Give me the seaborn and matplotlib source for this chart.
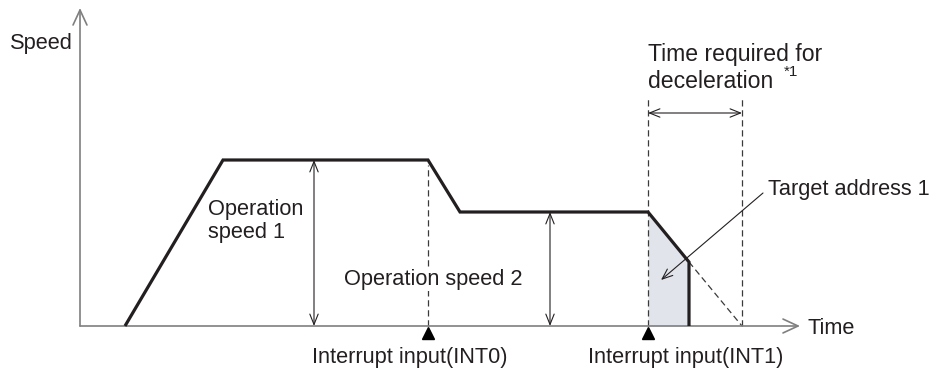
import numpy as np
import pandas as pd
import seaborn as sns
import matplotlib.pyplot as plt

# speed profile (time / speed in drawing units)
profile_time = [125, 223, 428, 460, 648, 689, 689]
profile_speed = [0, 166, 166, 114, 114, 64, 0]

# shaded part: from INT1 until target address 1
shade_time = [648, 689]
shade_speed = [114, 64]

# planned deceleration (dashed)
decel_time = [689, 742]
decel_speed = [64, 0]

int_times = [428, 648]
int_labels = ['Interrupt input(INT0)', 'Interrupt input(INT1)']
decel_end = 742

ink = '#231f20'
axis_gray = '#7f7f7f'
fs = 15.7

sns.set_theme(style='white')
plt.rcParams['font.family'] = ['Liberation Sans', 'DejaVu Sans']

fig = plt.figure(figsize=(9.37, 3.71), dpi=100)
ax = fig.add_axes([0, 0, 1, 1])
ax.set_xlim(0, 937)
ax.set_ylim(-45, 326)
ax.axis('off')


def arrow(tail, tip, style='->,head_length=0.75,head_width=0.3', lw=0.8, color=ink):
    ax.annotate('', xy=tip, xytext=tail,
                arrowprops=dict(arrowstyle=style, lw=lw, color=color,
                                shrinkA=0, shrinkB=0, mutation_scale=10))


# axes with open arrow heads
big = '->,head_length=1.08,head_width=0.5'
arrow((80, 0), (80, 318), style=big, lw=1.2, color=axis_gray)
arrow((80, 0), (800, 0), style=big, lw=1.2, color=axis_gray)
ax.text(73, 282, 'Speed', fontsize=fs, color=ink, ha='right', va='center')
ax.text(808, -2, 'Time', fontsize=fs, color=ink, ha='left', va='center')

# shaded area
ax.fill_between(shade_time, 0, shade_speed, color='#e1e4ea', lw=0, zorder=1)

# dashed guide lines
dash = dict(color='#3a3a3a', lw=0.9, ls=(0, (5, 3)), zorder=2)
ax.plot([int_times[0], int_times[0]], [0, 161], **dash)
ax.plot([int_times[1], int_times[1]], [0, 228], **dash)
ax.plot([decel_end, decel_end], [0, 228], **dash)
ax.plot(decel_time, decel_speed, **dash)

# speed profile
prof = pd.DataFrame({'time': profile_time, 'speed': profile_speed})
sns.lineplot(data=prof, x='time', y='speed', sort=False, estimator=None,
             color=ink, lw=2.3, ax=ax, zorder=4)
for ln in ax.lines[-1:]:
    ln.set_solid_joinstyle('miter')
    ln.set_solid_capstyle('butt')

# dimension arrows
dim = '<->,head_length=0.75,head_width=0.3'
arrow((314, 0), (314, 166), style=dim)
arrow((550, 0), (550, 114), style=dim)
arrow((648, 213), (742, 213), style=dim)
arrow((763, 133), (661, 46))

ax.text(208, 105, 'Operation\nspeed 1', fontsize=fs, color=ink,
        ha='left', va='center', linespacing=1.12)
ax.text(523, 47, 'Operation speed 2', fontsize=fs, color=ink, ha='right',
        va='center', zorder=3,
        bbox=dict(facecolor='white', edgecolor='none', pad=1))
ax.text(768, 137, 'Target address 1', fontsize=fs, color=ink,
        ha='left', va='center')
ax.text(648, 272, 'Time required for', fontsize=16.6, color=ink,
        ha='left', va='center')
ax.text(648, 245, 'deceleration', fontsize=16.6, color=ink,
        ha='left', va='center')
ax.text(784, 254, '*1', fontsize=11, color=ink, ha='left', va='center')

# interrupt inputs
ax.plot(int_times, [-7, -7], ls='none', marker='^', ms=9, color='black',
        zorder=5)
for t, lab in zip(int_times, int_labels):
    ax.text(t - 18 if t < 500 else t + 38, -32, lab, fontsize=fs, color=ink,
            ha='center', va='center')

fig.savefig('out.png', dpi=100)
